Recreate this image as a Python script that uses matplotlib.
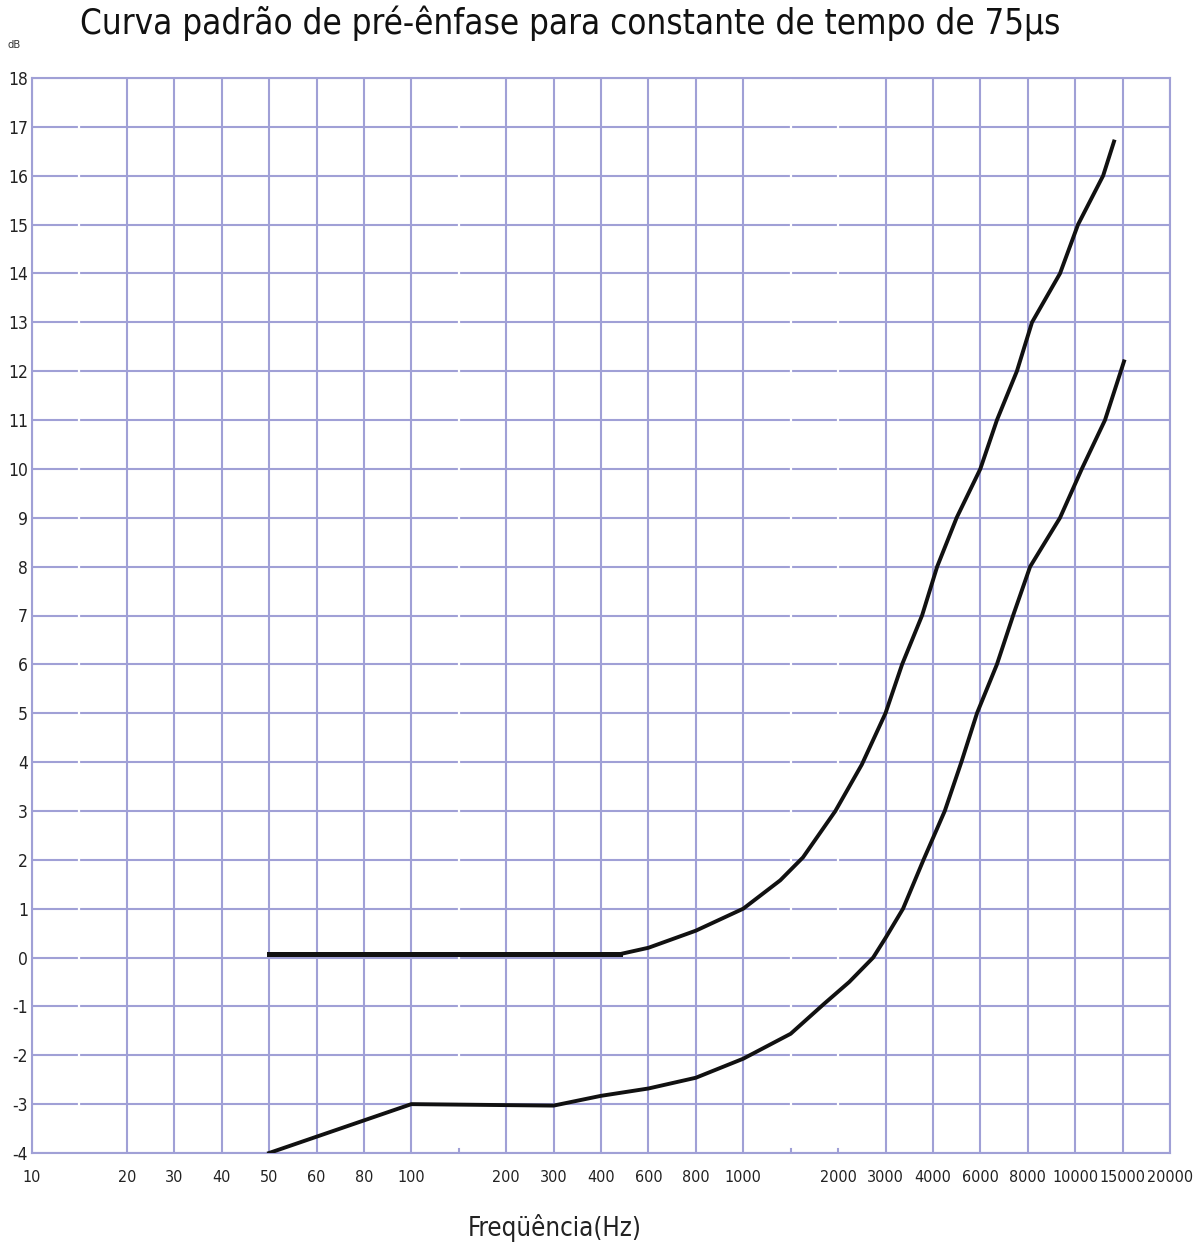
import numpy as np
import matplotlib
matplotlib.use("Agg")
import matplotlib.pyplot as plt

# fonts - narrow look like the scanned chart
plt.rcParams['font.family'] = ['DejaVu Sans Condensed', 'Liberation Sans Narrow', 'DejaVu Sans']
plt.rcParams['font.stretch'] = 'condensed'

### data ###
title = "Curva padrão de pré-ênfase para constante de tempo de 75µs"
xlabel = "Freqüência(Hz)"

# frequency of every grid column (columns are equally spaced on the chart)
col_freqs = [10, 14, 20, 30, 40, 50, 60, 80, 100, 140, 200, 300, 400, 600, 800,
             1000, 1400, 2000, 3000, 4000, 6000, 8000, 10000, 15000, 20000]
# columns that have no vertical line drawn
gap_freqs = [14, 140, 1400, 2000]
stub_freqs = [140, 1400, 2000]

x_ticks = [10, 20, 30, 40, 50, 60, 80, 100, 200, 300, 400, 600, 800, 1000,
           2000, 3000, 4000, 6000, 8000, 10000, 15000, 20000]
x_ticklabels = ["10", "20", "30", "40", "50", "60", "80", "100", "200", "300", "400",
                "600", "800", "1000", "2000", "3000", "4000", "6000", "8000",
                "10000", "15000", "20000"]
y_ticks = list(range(-4, 19))
y_ticklabels = [str(v) for v in y_ticks]

# upper curve
upper_hz = [50, 470, 600, 800, 1000, 1300, 1536, 1960, 2450, 3000, 3318, 3745,
            4148, 4899, 6000, 6636, 7490, 8162, 9312, 10246, 12700, 13940]
upper_db = [0.07, 0.07, 0.2, 0.55, 1.0, 1.58, 2.05, 3.0, 3.95, 5.0, 6.0, 7.0,
            8.0, 9.0, 10.0, 11.0, 12.0, 13.0, 14.0, 15.0, 16.0, 16.7]

# lower curve
lower_hz = [50, 100, 300, 400, 600, 800, 1000, 1400, 1798, 2200, 2700, 3000,
            3337, 3778, 4427, 5102, 5831, 6636, 7320, 8090, 9312, 10584, 12907, 15130]
lower_db = [-4.0, -3.0, -3.03, -2.83, -2.68, -2.46, -2.07, -1.56, -0.95, -0.5, 0.0, 0.4,
            1.0, 2.0, 3.0, 4.0, 5.0, 6.0, 7.0, 8.0, 9.0, 10.0, 11.0, 12.2]

GRID = "#a0a0d6"

log_cols = np.log10(col_freqs)
col_idx = np.arange(len(col_freqs))


def fwd(f):
    with np.errstate(divide='ignore', invalid='ignore'):
        lf = np.log10(np.clip(np.asarray(f, dtype=float), 1e-3, None))
    return np.interp(lf, log_cols, col_idx)


def inv(x):
    return 10 ** np.interp(np.asarray(x, dtype=float), col_idx, log_cols)


fig = plt.figure(figsize=(11.93, 12.49), dpi=100)
ax = fig.add_axes([32 / 1193, 96 / 1249, 1138 / 1193, 1075 / 1249])
ax.set_xscale('function', functions=(fwd, inv))
ax.set_xlim(10, 20000)
ax.set_ylim(-4, 18)

# grid
for f in col_freqs:
    if f not in gap_freqs:
        ax.axvline(f, color=GRID, lw=1.5, zorder=1)
for v in y_ticks:
    ax.axhline(v, color=GRID, lw=1.5, zorder=1)
# white breaks in the horizontal lines where a column line is missing
for f in gap_freqs:
    ax.axvline(f, ymin=0.004, ymax=0.999, color="white", lw=1.6, zorder=1.5)
for f in stub_freqs:
    ax.axvline(f, ymin=0.0, ymax=0.004, color=GRID, lw=1.5, zorder=1.6)

for s in ax.spines.values():
    s.set_color(GRID)
    s.set_linewidth(1.5)

# curves
ax.plot(upper_hz, upper_db, color="#111111", lw=2.8, zorder=3)
ax.plot(upper_hz[:2], upper_db[:2], color="#111111", lw=3.6, zorder=3)
ax.plot(lower_hz, lower_db, color="#111111", lw=2.8, zorder=3)

ax.set_xticks(x_ticks)
ax.set_xticklabels(x_ticklabels, fontsize=11.5)
ax.set_yticks(y_ticks)
ax.set_yticklabels(y_ticklabels, fontsize=12.5)
ax.xaxis.set_minor_locator(matplotlib.ticker.NullLocator())
ax.tick_params(axis='both', length=0, colors="#222222")
ax.tick_params(axis='x', pad=12)
ax.tick_params(axis='y', pad=3)

fig.text(80 / 1193, 1 - 34 / 1249, title, fontsize=25, va='baseline', ha='left', color="#111111")
fig.text(14 / 1193, 1 - 45 / 1249, "dB", fontsize=8, va='center', ha='center', color="#333333")
fig.text(555 / 1193, 1 - 1228 / 1249, xlabel, fontsize=18.5, va='center', ha='center', color="#222222")

fig.savefig("out.png", dpi=100)
